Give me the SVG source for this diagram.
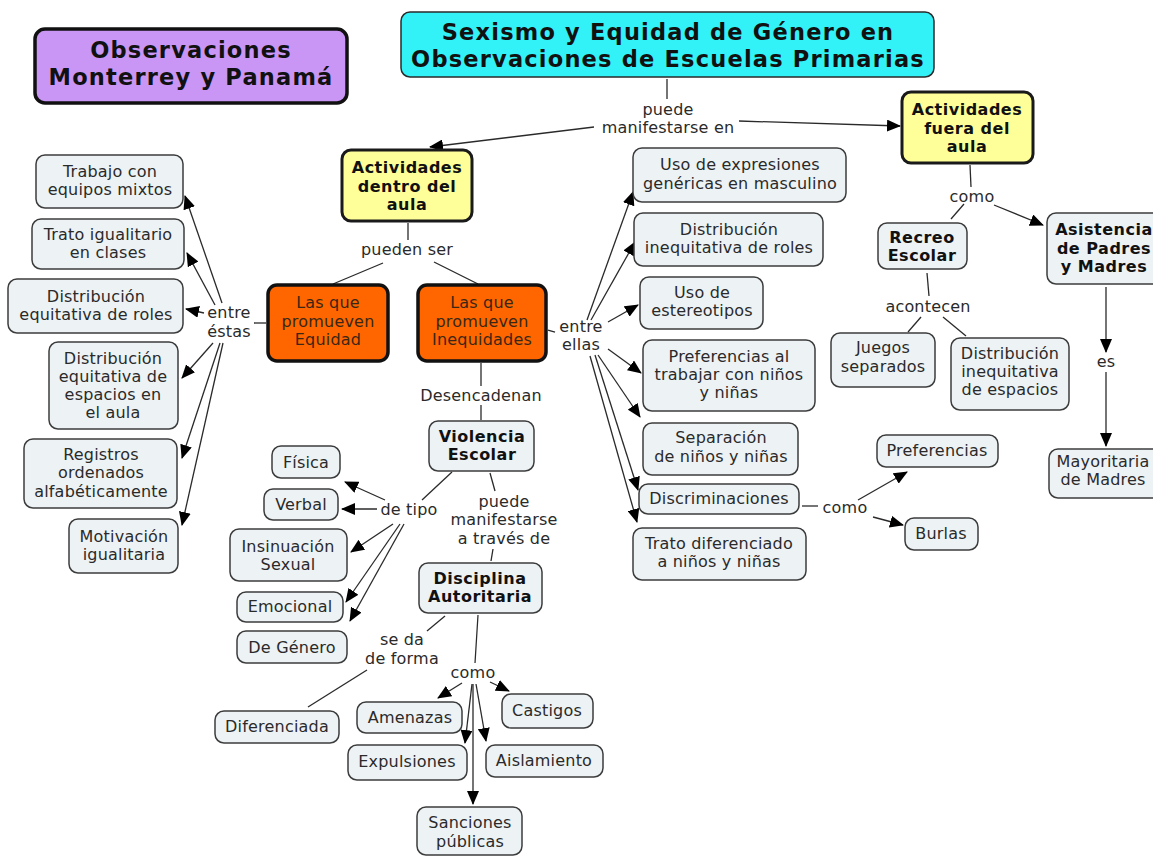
<svg xmlns="http://www.w3.org/2000/svg" width="1153" height="856" viewBox="0 0 1153 856">
  <style>
    text { font-family: "DejaVu Sans", Verdana, sans-serif; font-size: 16px; letter-spacing: 0.2px; fill: #2a2a2a; text-anchor: middle; }
    .b { font-weight: bold; fill: #111; letter-spacing: 0.5px; }
    .t { font-size: 22.5px; font-weight: bold; fill: #111; letter-spacing: 1.2px; }
    .box { fill: #edf2f5; stroke: #3c3c3c; stroke-width: 1.5; }
    .yel { fill: #ffff99; stroke: #1a1a1a; stroke-width: 3; }
    .org { fill: #ff6600; stroke: #111; stroke-width: 3.5; }
    .pur { fill: #c996f6; stroke: #111; stroke-width: 3.5; }
    .cya { fill: #33f2f7; stroke: #2a2a2a; stroke-width: 1.5; }
    .ot { fill: #3a2616; }
    #links line { stroke: #2a2a2a; stroke-width: 1.3; fill: none; }
    .a { marker-end: url(#arrow); }
  </style>
  <defs>
    <marker id="arrow" markerUnits="userSpaceOnUse" markerWidth="14" markerHeight="12" refX="13" refY="6" orient="auto">
      <path d="M0,0 L14,6 L0,12 z" fill="#000"/>
    </marker>
  </defs>
  <rect width="1153" height="856" fill="#fff"/>

  <!-- connectors -->
  <g id="links">
    <!-- title -> puede manifestarse en -->
    <line x1="667" y1="79" x2="667" y2="99"/>
    <line class="a" x1="594" y1="127" x2="430" y2="147"/>
    <line class="a" x1="739" y1="121" x2="900" y2="126"/>
    <!-- dentro del aula -> pueden ser -->
    <line x1="408" y1="223" x2="408" y2="240"/>
    <line x1="383" y1="263" x2="333" y2="284"/>
    <line x1="434" y1="262" x2="478" y2="284"/>
    <!-- Equidad -> entre éstas -->
    <line x1="266" y1="323" x2="254" y2="323"/>
    <line class="a" x1="222" y1="303" x2="185" y2="196"/>
    <line class="a" x1="215" y1="305" x2="187" y2="253"/>
    <line class="a" x1="204" y1="313" x2="186" y2="309"/>
    <line class="a" x1="213" y1="343" x2="182" y2="378"/>
    <line class="a" x1="220" y1="343" x2="182" y2="458"/>
    <line class="a" x1="223" y1="343" x2="182" y2="525"/>
    <!-- Inequidades -> entre ellas -->
    <line x1="548" y1="330" x2="555" y2="332"/>
    <line class="a" x1="587" y1="320" x2="633" y2="192"/>
    <line class="a" x1="591" y1="320" x2="635" y2="242"/>
    <line class="a" x1="608" y1="322" x2="638" y2="305"/>
    <line class="a" x1="608" y1="349" x2="641" y2="373"/>
    <line class="a" x1="598" y1="355" x2="640" y2="417"/>
    <line class="a" x1="595" y1="355" x2="638" y2="490"/>
    <line class="a" x1="590" y1="356" x2="637" y2="522"/>
    <!-- Discriminaciones -> como -->
    <line x1="802" y1="506" x2="818" y2="506"/>
    <line class="a" x1="858" y1="500" x2="907" y2="472"/>
    <line class="a" x1="873" y1="517" x2="903" y2="525"/>
    <!-- Inequidades -> Desencadenan -> Violencia -->
    <line x1="481" y1="363" x2="481" y2="386"/>
    <line x1="481" y1="405" x2="481" y2="420"/>
    <!-- Violencia -> de tipo -->
    <line x1="452" y1="472" x2="422" y2="500"/>
    <line class="a" x1="385" y1="500" x2="345" y2="482"/>
    <line class="a" x1="377" y1="509" x2="342" y2="509"/>
    <line class="a" x1="393" y1="524" x2="351" y2="552"/>
    <line class="a" x1="400" y1="524" x2="346" y2="602"/>
    <line class="a" x1="404" y1="524" x2="350" y2="621"/>
    <!-- Violencia -> puede manifestarse a través de -> Disciplina -->
    <line x1="490" y1="473" x2="495" y2="491"/>
    <line x1="493" y1="549" x2="491" y2="561"/>
    <!-- Disciplina -> se da de forma -> Diferenciada -->
    <line x1="445" y1="616" x2="427" y2="631"/>
    <line x1="367" y1="670" x2="308" y2="707"/>
    <!-- Disciplina -> como -->
    <line x1="478" y1="615" x2="475" y2="663"/>
    <line class="a" x1="462" y1="683" x2="438" y2="698"/>
    <line class="a" x1="490" y1="682" x2="509" y2="691"/>
    <line class="a" x1="472" y1="684" x2="465" y2="743"/>
    <line class="a" x1="476" y1="684" x2="486" y2="741"/>
    <line class="a" x1="473" y1="684" x2="473" y2="804"/>
    <!-- fuera del aula -> como -->
    <line x1="970" y1="165" x2="971" y2="187"/>
    <line x1="964" y1="204" x2="951" y2="219"/>
    <line class="a" x1="994" y1="205" x2="1043" y2="225"/>
    <!-- Recreo -> acontecen -->
    <line x1="927" y1="273" x2="929" y2="296"/>
    <line x1="921" y1="317" x2="908" y2="332"/>
    <line x1="943" y1="317" x2="966" y2="336"/>
    <!-- Asistencia -> es -> Mayoritaria -->
    <line class="a" x1="1106" y1="287" x2="1106" y2="352"/>
    <line class="a" x1="1106" y1="372" x2="1106" y2="446"/>
  </g>

  <!-- link labels -->
  <g id="labels">
    <text x="668" y="115">puede</text>
    <text x="668" y="133">manifestarse en</text>
    <text x="407" y="255">pueden ser</text>
    <text x="229" y="318">entre</text>
    <text x="229" y="337">éstas</text>
    <text x="581" y="332">entre</text>
    <text x="581" y="350">ellas</text>
    <text x="481" y="401">Desencadenan</text>
    <text x="409" y="515">de tipo</text>
    <text x="504" y="507">puede</text>
    <text x="504" y="525">manifestarse</text>
    <text x="504" y="544">a través de</text>
    <text x="402" y="645">se da</text>
    <text x="402" y="664">de forma</text>
    <text x="473" y="678">como</text>
    <text x="845" y="513">como</text>
    <text x="972" y="202">como</text>
    <text x="928" y="312">acontecen</text>
    <text x="1106" y="367">es</text>
  </g>

  <!-- nodes -->
  <g id="n-obs">
    <rect class="pur" x="35" y="29" width="312" height="74" rx="10"/>
    <text class="t" x="191" y="58">Observaciones</text>
    <text class="t" x="191" y="85">Monterrey y Panamá</text>
  </g>
  <g id="n-title">
    <rect class="cya" x="401" y="12" width="533" height="65" rx="9"/>
    <text class="t" x="668" y="40">Sexismo y Equidad de Género en</text>
    <text class="t" x="668" y="67">Observaciones de Escuelas Primarias</text>
  </g>
  <g id="n-dentro">
    <rect class="yel" x="342" y="150" width="130" height="71" rx="9"/>
    <text class="b" x="407" y="173">Actividades</text>
    <text class="b" x="407" y="192">dentro del</text>
    <text class="b" x="407" y="210">aula</text>
  </g>
  <g id="n-fuera">
    <rect class="yel" x="902" y="92" width="131" height="71" rx="9"/>
    <text class="b" x="967" y="115">Actividades</text>
    <text class="b" x="967" y="134">fuera del</text>
    <text class="b" x="967" y="152">aula</text>
  </g>
  <g id="n-equidad">
    <rect class="org" x="268" y="285" width="120" height="76" rx="9"/>
    <text class="ot" x="328" y="308">Las que</text>
    <text class="ot" x="328" y="327">promueven</text>
    <text class="ot" x="328" y="345">Equidad</text>
  </g>
  <g id="n-inequidades">
    <rect class="org" x="418" y="285" width="128" height="76" rx="9"/>
    <text class="ot" x="482" y="308">Las que</text>
    <text class="ot" x="482" y="327">promueven</text>
    <text class="ot" x="482" y="345">Inequidades</text>
  </g>

  <!-- Equidad branch -->
  <g id="n-trabajo">
    <rect class="box" x="36" y="155" width="147" height="53" rx="9"/>
    <text x="110" y="177">Trabajo con</text>
    <text x="110" y="195">equipos mixtos</text>
  </g>
  <g id="n-trato">
    <rect class="box" x="32" y="219" width="152" height="50" rx="9"/>
    <text x="108" y="240">Trato igualitario</text>
    <text x="108" y="258">en clases</text>
  </g>
  <g id="n-roles">
    <rect class="box" x="8" y="279" width="175" height="54" rx="9"/>
    <text x="96" y="302">Distribución</text>
    <text x="96" y="320">equitativa de roles</text>
  </g>
  <g id="n-espacios">
    <rect class="box" x="49" y="342" width="129" height="87" rx="9"/>
    <text x="113" y="364">Distribución</text>
    <text x="113" y="382">equitativa de</text>
    <text x="113" y="400">espacios en</text>
    <text x="113" y="418">el aula</text>
  </g>
  <g id="n-registros">
    <rect class="box" x="24" y="439" width="153" height="69" rx="9"/>
    <text x="101" y="460">Registros</text>
    <text x="101" y="478">ordenados</text>
    <text x="101" y="497">alfabéticamente</text>
  </g>
  <g id="n-motivacion">
    <rect class="box" x="69" y="519" width="109" height="54" rx="9"/>
    <text x="124" y="542">Motivación</text>
    <text x="124" y="560">igualitaria</text>
  </g>

  <!-- Inequidades branch -->
  <g id="n-expresiones">
    <rect class="box" x="633" y="148" width="213" height="54" rx="9"/>
    <text x="740" y="170">Uso de expresiones</text>
    <text x="740" y="189">genéricas en masculino</text>
  </g>
  <g id="n-roles-in">
    <rect class="box" x="634" y="213" width="189" height="53" rx="9"/>
    <text x="729" y="235">Distribución</text>
    <text x="729" y="253">inequitativa de roles</text>
  </g>
  <g id="n-estereotipos">
    <rect class="box" x="640" y="277" width="123" height="52" rx="9"/>
    <text x="702" y="298">Uso de</text>
    <text x="702" y="316">estereotipos</text>
  </g>
  <g id="n-preferencias-al">
    <rect class="box" x="643" y="340" width="172" height="71" rx="9"/>
    <text x="729" y="362">Preferencias al</text>
    <text x="729" y="380">trabajar con niños</text>
    <text x="729" y="398">y niñas</text>
  </g>
  <g id="n-separacion">
    <rect class="box" x="643" y="423" width="155" height="52" rx="9"/>
    <text x="721" y="443">Separación</text>
    <text x="721" y="462">de niños y niñas</text>
  </g>
  <g id="n-discriminaciones">
    <rect class="box" x="639" y="484" width="160" height="30" rx="9"/>
    <text x="719" y="504">Discriminaciones</text>
  </g>
  <g id="n-trato-dif">
    <rect class="box" x="633" y="528" width="173" height="52" rx="9"/>
    <text x="719" y="549">Trato diferenciado</text>
    <text x="719" y="567">a niños y niñas</text>
  </g>
  <g id="n-preferencias">
    <rect class="box" x="877" y="435" width="121" height="32" rx="9"/>
    <text x="937" y="456">Preferencias</text>
  </g>
  <g id="n-burlas">
    <rect class="box" x="905" y="518" width="73" height="32" rx="9"/>
    <text x="941" y="539">Burlas</text>
  </g>

  <!-- Violencia branch -->
  <g id="n-violencia">
    <rect class="box" x="429" y="421" width="105" height="50" rx="9"/>
    <text class="b" x="482" y="442">Violencia</text>
    <text class="b" x="482" y="460">Escolar</text>
  </g>
  <g id="n-fisica">
    <rect class="box" x="272" y="446" width="68" height="32" rx="9"/>
    <text x="306" y="468">Física</text>
  </g>
  <g id="n-verbal">
    <rect class="box" x="264" y="489" width="74" height="31" rx="9"/>
    <text x="301" y="510">Verbal</text>
  </g>
  <g id="n-insinuacion">
    <rect class="box" x="230" y="529" width="117" height="52" rx="9"/>
    <text x="288" y="552">Insinuación</text>
    <text x="288" y="570">Sexual</text>
  </g>
  <g id="n-emocional">
    <rect class="box" x="237" y="592" width="106" height="30" rx="9"/>
    <text x="290" y="612">Emocional</text>
  </g>
  <g id="n-genero">
    <rect class="box" x="237" y="631" width="110" height="32" rx="9"/>
    <text x="292" y="653">De Género</text>
  </g>

  <!-- Disciplina branch -->
  <g id="n-disciplina">
    <rect class="box" x="419" y="563" width="123" height="50" rx="9"/>
    <text class="b" x="480" y="584">Disciplina</text>
    <text class="b" x="480" y="602">Autoritaria</text>
  </g>
  <g id="n-diferenciada">
    <rect class="box" x="215" y="711" width="124" height="32" rx="9"/>
    <text x="277" y="732">Diferenciada</text>
  </g>
  <g id="n-amenazas">
    <rect class="box" x="357" y="702" width="105" height="31" rx="9"/>
    <text x="410" y="723">Amenazas</text>
  </g>
  <g id="n-castigos">
    <rect class="box" x="502" y="694" width="91" height="34" rx="9"/>
    <text x="547" y="716">Castigos</text>
  </g>
  <g id="n-expulsiones">
    <rect class="box" x="348" y="745" width="119" height="35" rx="9"/>
    <text x="407" y="767">Expulsiones</text>
  </g>
  <g id="n-aislamiento">
    <rect class="box" x="486" y="745" width="117" height="32" rx="9"/>
    <text x="544" y="766">Aislamiento</text>
  </g>
  <g id="n-sanciones">
    <rect class="box" x="417" y="807" width="105" height="48" rx="9"/>
    <text x="470" y="828">Sanciones</text>
    <text x="470" y="847">públicas</text>
  </g>

  <!-- fuera del aula branch -->
  <g id="n-recreo">
    <rect class="box" x="878" y="223" width="89" height="46" rx="9"/>
    <text class="b" x="922" y="243">Recreo</text>
    <text class="b" x="922" y="261">Escolar</text>
  </g>
  <g id="n-asistencia">
    <rect class="box" x="1047" y="213" width="118" height="71" rx="9"/>
    <text class="b" x="1104" y="235">Asistencia</text>
    <text class="b" x="1104" y="254">de Padres</text>
    <text class="b" x="1104" y="272">y Madres</text>
  </g>
  <g id="n-juegos">
    <rect class="box" x="831" y="333" width="104" height="54" rx="9"/>
    <text x="883" y="353">Juegos</text>
    <text x="883" y="372">separados</text>
  </g>
  <g id="n-espacios-in">
    <rect class="box" x="951" y="338" width="118" height="72" rx="9"/>
    <text x="1010" y="359">Distribución</text>
    <text x="1010" y="377">inequitativa</text>
    <text x="1010" y="395">de espacios</text>
  </g>
  <g id="n-mayoritaria">
    <rect class="box" x="1049" y="449" width="116" height="49" rx="9"/>
    <text x="1103" y="467">Mayoritaria</text>
    <text x="1103" y="485">de Madres</text>
  </g>
</svg>
